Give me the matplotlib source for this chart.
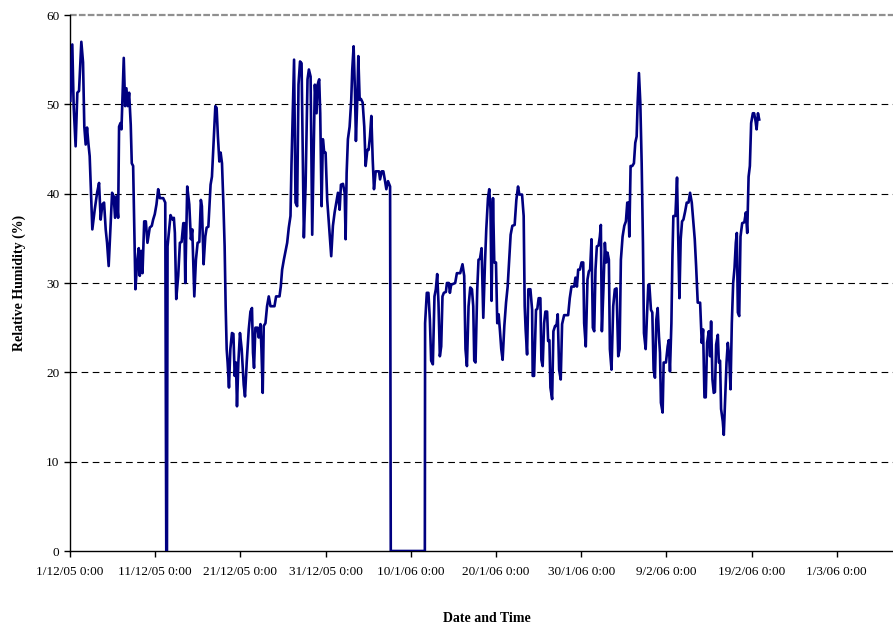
import pandas as pd
import matplotlib
matplotlib.use("Agg")
import matplotlib.pyplot as plt

# days since 1/12/05 0:00 and relative humidity (%)
days = [
    0.04, 0.27, 0.43, 0.66, 0.86, 1.06, 1.33, 1.53, 1.68, 1.84, 2.0, 2.15, 2.31, 2.62, 2.9,
    3.18, 3.41, 3.6, 3.8, 4.0, 4.19, 4.35, 4.54, 4.74, 4.94, 5.13, 5.29, 5.45, 5.65, 5.76,
    5.92, 6.04, 6.31, 6.47, 6.62, 6.78, 6.94, 7.13, 7.25, 7.41, 7.68, 7.88, 8.07, 8.19, 8.35,
    8.51, 8.71, 8.9, 9.09, 9.36, 9.6, 9.76, 9.95, 10.15, 10.35, 10.54, 10.94, 11.18, 11.3, 11.38,
    11.45, 11.8, 12.04, 12.19, 12.31, 12.47, 12.7, 12.9, 13.1, 13.3, 13.42, 13.53, 13.76, 14.0, 14.19,
    14.35, 14.59, 14.78, 14.98, 15.18, 15.36, 15.48, 15.68, 15.88, 16.04, 16.24, 16.5, 16.66, 16.86, 17.06,
    17.21, 17.36, 17.53, 17.68, 17.84, 18.0, 18.15, 18.27, 18.39, 18.5, 18.66, 18.82, 19.01, 19.18, 19.33,
    19.48, 19.6, 19.76, 19.95, 20.15, 20.39, 20.54, 20.74, 20.98, 21.18, 21.36, 21.48, 21.6, 21.76, 22.0,
    22.15, 22.35, 22.47, 22.62, 22.74, 22.94, 23.13, 23.33, 23.53, 24.0, 24.19, 24.59, 24.74, 24.9, 25.1,
    25.3, 25.49, 25.68, 25.88, 26.0, 26.15, 26.3, 26.47, 26.66, 26.82, 27.0, 27.18, 27.45, 27.65, 27.88,
    28.04, 28.24, 28.43, 28.74, 28.94, 29.06, 29.25, 29.37, 29.53, 29.68, 29.84, 30.0, 30.19, 30.47, 30.66,
    30.86, 31.06, 31.25, 31.45, 31.65, 31.8, 32.04, 32.24, 32.35, 32.47, 32.62, 32.82, 33.01, 33.13, 33.29,
    33.45, 33.56, 33.72, 33.84, 34.0, 34.15, 34.35, 34.54, 34.7, 34.9, 35.05, 35.21, 35.37, 35.53, 35.68,
    35.88, 36.27, 36.39, 36.59, 36.78, 36.98, 37.13, 37.33, 37.57, 37.65, 41.65, 41.68, 41.88, 42.07, 42.24,
    42.39, 42.59, 42.78, 42.94, 43.1, 43.25, 43.41, 43.57, 43.72, 43.88, 44.12, 44.24, 44.47, 44.59, 44.74,
    45.21, 45.41, 45.8, 46.07, 46.27, 46.42, 46.59, 46.78, 46.98, 47.18, 47.33, 47.45, 47.6, 47.8, 47.95,
    48.12, 48.31, 48.51, 48.71, 48.86, 49.06, 49.21, 49.36, 49.48, 49.65, 49.8, 50.0, 50.15, 50.31, 50.47,
    50.62, 50.78, 50.98, 51.18, 51.37, 51.53, 51.72, 51.92, 52.19, 52.39, 52.59, 52.74, 53.06, 53.25, 53.37,
    53.48, 53.65, 53.8, 54.04, 54.24, 54.31, 54.47, 54.7, 54.85, 55.01, 55.21, 55.33, 55.48, 55.65, 55.8,
    56.0, 56.12, 56.27, 56.39, 56.59, 56.74, 56.94, 57.1, 57.25, 57.41, 57.6, 57.76, 58.0, 58.47, 58.66,
    58.86, 59.18, 59.33, 59.5, 59.65, 59.85, 60.04, 60.24, 60.35, 60.54, 60.74, 60.9, 61.05, 61.21, 61.37,
    61.53, 61.68, 61.84, 62.04, 62.19, 62.31, 62.43, 62.62, 62.78, 62.94, 63.09, 63.25, 63.37, 63.56, 63.76,
    63.95, 64.15, 64.35, 64.51, 64.66, 64.86, 65.06, 65.25, 65.41, 65.53, 65.65, 65.8, 66.0, 66.19, 66.35,
    66.51, 66.63, 66.78, 66.94, 67.1, 67.25, 67.37, 67.57, 67.72, 67.88, 68.0, 68.19, 68.35, 68.5, 68.66,
    68.82, 68.98, 69.13, 69.25, 69.36, 69.56, 69.68, 69.95, 70.15, 70.28, 70.42, 70.59, 70.71, 70.82, 71.06,
    71.25, 71.37, 71.53, 71.68, 71.84, 72.0, 72.2, 72.39, 72.6, 72.78, 72.98, 73.18, 73.33, 73.49, 73.68,
    73.96, 74.15, 74.31, 74.47, 74.62, 74.78, 74.98, 75.13, 75.25, 75.41, 75.56, 75.7, 75.84, 76.04, 76.16,
    76.3, 76.42, 76.62, 76.74, 76.9, 77.06, 77.21, 77.37, 77.53, 77.68, 77.84, 78.0, 78.15, 78.27, 78.39,
    78.55, 78.7, 78.9, 79.15, 79.33, 79.49, 79.65, 79.8, 79.95, 80.15, 80.3, 80.47, 80.59, 80.75, 80.9,
]
rh = [
    50.4, 56.7, 49.8, 45.3, 51.3, 51.5, 57.0, 54.7, 47.5, 45.5, 47.4, 45.7, 44.2, 36.0, 38.2,
    40.1, 41.2, 37.1, 38.8, 39.0, 36.0, 34.5, 31.9, 36.0, 40.1, 39.7, 37.3, 39.7, 37.3, 47.5,
    47.9, 47.2, 55.2, 49.8, 51.8, 49.8, 51.3, 47.7, 43.4, 43.1, 29.3, 32.3, 33.9, 30.8, 33.6,
    31.1, 36.9, 36.9, 34.5, 36.2, 36.4, 37.1, 37.7, 38.8, 40.5, 39.5, 39.5, 39.0, 0.0, 0.0,
    34.1, 37.6, 37.1, 37.3, 35.6, 28.2, 30.8, 34.5, 34.6, 36.7, 36.7, 30.0, 40.8, 38.8, 34.9,
    36.0, 28.5, 32.6, 34.5, 34.6, 39.3, 38.6, 32.1, 35.2, 36.2, 36.3, 41.0, 41.9, 45.9, 49.8,
    49.6, 46.4, 43.6, 44.6, 43.4, 39.0, 34.1, 27.4, 22.6, 21.1, 18.3, 22.6, 24.4, 24.3, 19.6,
    21.1, 16.2, 21.1, 24.4, 22.6, 18.6, 17.3, 21.1, 24.8, 26.8, 27.2, 22.2, 20.5, 25.0, 25.0,
    23.9, 25.4, 22.6, 17.7, 25.2, 25.5, 27.4, 28.5, 27.4, 27.4, 28.5, 28.5, 29.6, 31.5, 32.6,
    33.6, 34.5, 36.2, 37.5, 43.4, 49.4, 55.0, 39.0, 38.6, 52.2, 54.8, 54.6, 35.1, 40.8, 52.8,
    53.9, 53.1, 35.4, 52.2, 49.0, 52.2, 52.8, 49.0, 38.6, 46.1, 44.6, 44.6, 39.3, 35.6, 33.0,
    36.4, 37.9, 39.0, 40.1, 38.2, 41.0, 41.1, 40.1, 34.9, 42.3, 46.1, 47.5, 50.5, 53.9, 56.5,
    51.3, 45.9, 50.5, 55.4, 50.5, 50.6, 50.2, 47.5, 43.1, 44.9, 44.9, 46.4, 48.7, 43.8, 40.5,
    42.5, 42.5, 41.6, 42.5, 42.5, 41.4, 40.5, 41.4, 40.8, 0.0, 0.0, 25.5, 28.9, 28.9, 25.9,
    21.3, 20.9, 28.5, 29.3, 31.0, 27.8, 21.8, 22.9, 28.5, 28.9, 29.0, 30.0, 30.0, 28.9, 29.8,
    30.0, 31.1, 31.1, 32.1, 30.8, 22.6, 20.7, 27.4, 29.5, 29.3, 27.4, 21.3, 21.1, 29.3, 32.6,
    32.7, 33.9, 26.1, 32.3, 36.0, 39.5, 40.5, 38.2, 28.0, 39.5, 32.3, 32.3, 25.5, 26.5, 24.6,
    22.6, 21.4, 25.2, 27.8, 29.6, 32.3, 35.4, 36.4, 36.5, 39.3, 40.8, 39.9, 39.9, 37.5, 27.4,
    24.8, 22.0, 29.3, 29.3, 27.0, 19.6, 19.6, 27.0, 27.1, 28.3, 28.3, 21.4, 20.7, 25.5, 26.8,
    26.8, 23.5, 23.6, 18.3, 17.0, 24.6, 25.2, 25.2, 26.5, 20.3, 19.2, 25.4, 26.4, 26.4, 28.3,
    29.6, 29.6, 30.6, 29.6, 31.5, 31.5, 32.3, 32.3, 25.5, 22.9, 30.4, 31.3, 31.5, 34.9, 25.0,
    24.6, 31.5, 34.1, 34.2, 35.2, 36.5, 24.6, 29.6, 34.5, 32.3, 33.4, 32.6, 22.6, 20.3, 27.4,
    29.3, 29.4, 21.8, 22.6, 32.6, 35.2, 36.4, 36.9, 39.0, 39.0, 35.2, 43.1, 43.1, 43.4, 45.7,
    46.4, 50.2, 53.5, 50.2, 43.4, 34.5, 24.4, 22.6, 26.3, 29.8, 29.8, 27.0, 26.7, 20.3, 19.4,
    25.9, 27.2, 24.0, 22.2, 16.6, 15.5, 21.1, 21.1, 22.9, 23.6, 20.1, 25.5, 33.0, 37.5, 37.5,
    41.8, 36.0, 28.3, 34.9, 36.9, 37.1, 38.0, 39.0, 39.0, 40.1, 39.0, 36.7, 34.9, 31.9, 27.8,
    27.8, 23.3, 24.8, 17.2, 17.2, 23.3, 24.6, 21.8, 25.7, 19.2, 17.7, 17.8, 23.1, 24.2, 21.1,
    21.3, 15.9, 14.5, 13.0, 17.0, 21.1, 23.3, 21.8, 18.1, 25.5, 30.0, 31.7, 34.5, 35.6, 26.7,
    26.3, 35.2, 36.7, 36.8, 37.9, 35.6, 41.9, 43.1, 47.9, 49.0, 49.0, 48.1, 47.2, 49.0, 48.3,
]

start = pd.Timestamp("2005-12-01")
tick_days = [0, 10, 20, 30, 40, 50, 60, 70, 80, 90]
tick_labels = ["1/12/05 0:00", "11/12/05 0:00", "21/12/05 0:00", "31/12/05 0:00",
               "10/1/06 0:00", "20/1/06 0:00", "30/1/06 0:00", "9/2/06 0:00",
               "19/2/06 0:00", "1/3/06 0:00"]

times = start + pd.to_timedelta(days, unit="D")
ticks = start + pd.to_timedelta(tick_days, unit="D")

plt.rcParams["font.family"] = ["Liberation Serif", "DejaVu Serif"]

fig = plt.figure(figsize=(8.93, 6.28), dpi=100)
ax = fig.add_axes([70 / 893, 77 / 628, 1 - 70 / 893, 536 / 628])

for y in [10, 20, 30, 40, 50]:
    ax.axhline(y, color="black", linestyle=(0, (6, 4)), linewidth=0.8, zorder=1)
ax.axhline(60, color="#909090", linestyle=(0, (3, 1)), linewidth=1.6, zorder=1, clip_on=False)

ax.plot(times, rh, color="#000080", linewidth=1.9, zorder=3)

ax.set_xlim(start, start + pd.Timedelta(days=96.6))
ax.set_ylim(0, 60)
ax.set_yticks(range(0, 61, 10))
ax.set_xticks(ticks)
ax.set_xticklabels(tick_labels)

for side in ["top", "right"]:
    ax.spines[side].set_visible(False)
ax.spines["left"].set_linewidth(1.0)
ax.spines["bottom"].set_linewidth(1.0)
ax.tick_params(axis="both", direction="out", length=4, width=1.0, labelsize=9.5, colors="black")
ax.tick_params(axis="x", pad=7)

ax.set_ylabel("Relative Humidity (%)", fontsize=10, fontweight="bold")
ax.yaxis.set_label_coords(-0.053, 0.5)
ax.set_xlabel("Date and Time", fontsize=10, fontweight="bold")
ax.xaxis.set_label_coords((487 - 70) / 823, -0.114)

fig.savefig("out.png", dpi=100)
